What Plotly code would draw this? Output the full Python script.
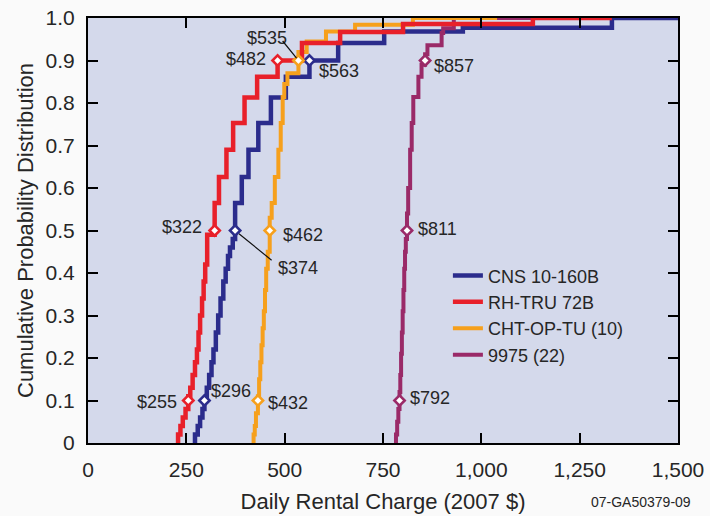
import plotly.graph_objects as go

# ---------------- data ----------------
series_names = ["CNS 10-160B", "RH-TRU 72B", "CHT-OP-TU (10)", "9975 (22)"]

cns_x = [268, 272, 279, 285, 291, 296, 302, 308, 314, 319, 325, 331, 337, 344, 350, 356, 361, 368, 374,
         391, 408, 433, 465, 503, 563, 636, 753, 953, 1332, 1500]
cns_p = [0.0, 0.02, 0.04, 0.06, 0.08, 0.105, 0.13, 0.16, 0.19, 0.22, 0.26, 0.30, 0.34, 0.38, 0.41, 0.44, 0.46, 0.48, 0.565,
         0.626, 0.69, 0.753, 0.813, 0.862, 0.90, 0.941, 0.968, 0.977, 1.0, 1.0]

rh_x = [226, 229, 235, 241, 248, 255, 260, 266, 272, 277, 281, 285, 290, 294, 298, 303, 322,
        333, 352, 369, 398, 430, 482, 544, 641, 801, 1131, 1332]
rh_p = [0.0, 0.02, 0.04, 0.06, 0.08, 0.11, 0.13, 0.16, 0.19, 0.22, 0.26, 0.30, 0.34, 0.38, 0.42, 0.49, 0.565,
        0.626, 0.69, 0.753, 0.813, 0.862, 0.90, 0.941, 0.967, 0.986, 1.0, 1.0]

cht_x = [418, 421, 424, 427, 432, 435, 438, 441, 444, 447, 450, 453, 457, 462,
         467, 475, 484, 490, 495, 499, 507, 535, 556, 605, 679, 826, 1040]
cht_p = [0.0, 0.02, 0.04, 0.07, 0.11, 0.15, 0.19, 0.23, 0.27, 0.31, 0.36, 0.41, 0.45, 0.53,
         0.565, 0.626, 0.69, 0.753, 0.814, 0.845, 0.87, 0.92, 0.945, 0.968, 0.984, 1.0, 1.0]

s9975_x = [781, 783, 786, 789, 792, 794, 796, 798, 800, 802, 804, 806, 808, 811,
           814, 819, 823, 827, 840, 848, 857, 863, 899, 903, 930, 1131]
s9975_p = [0.0, 0.02, 0.05, 0.08, 0.12, 0.16, 0.21, 0.26, 0.31, 0.36, 0.41, 0.45, 0.48, 0.54,
           0.60, 0.69, 0.753, 0.814, 0.862, 0.89, 0.915, 0.936, 0.965, 0.976, 1.0, 1.0]

q_levels = [0.1, 0.5, 0.9]
cns_q = [296, 374, 563]
rh_q = [255, 322, 482]
cht_q = [432, 462, 535]
s9975_q = [792, 811, 857]

x_ticks = [0, 250, 500, 750, 1000, 1250, 1500]
x_ticklabels = ["0", "250", "500", "750", "1,000", "1,250", "1,500"]
y_ticks = [0, 0.1, 0.2, 0.3, 0.4, 0.5, 0.6, 0.7, 0.8, 0.9, 1.0]
y_ticklabels = ["0", "0.1", "0.2", "0.3", "0.4", "0.5", "0.6", "0.7", "0.8", "0.9", "1.0"]

# ---------------- style ----------------
FONT = "Liberation Sans, Arial, Helvetica, sans-serif"
TXT = "#262626"
colors = {"CNS 10-160B": "#2b2c8c", "RH-TRU 72B": "#e8202a",
          "CHT-OP-TU (10)": "#f6a01c", "9975 (22)": "#9a2a68"}
widths = {"CNS 10-160B": 4.5, "RH-TRU 72B": 4.5, "CHT-OP-TU (10)": 4, "9975 (22)": 4}
rank = {n: i for i, n in enumerate(series_names)}

data = {
    "CNS 10-160B": (cns_x, cns_p, cns_q),
    "RH-TRU 72B": (rh_x, rh_p, rh_q),
    "CHT-OP-TU (10)": (cht_x, cht_p, cht_q),
    "9975 (22)": (s9975_x, s9975_p, s9975_q),
}

# drawing order (bottom -> top)
draw_order = ["CNS 10-160B", "9975 (22)", "CHT-OP-TU (10)", "RH-TRU 72B"]

fig = go.Figure()
for name in draw_order:
    xs, ps, _ = data[name]
    fig.add_trace(go.Scatter(
        x=xs, y=ps, mode="lines", name=name, line_shape="hv",
        line=dict(color=colors[name], width=widths[name]),
        legendrank=rank[name] + 1,
    ))
for name in draw_order:
    _, _, qs = data[name]
    fig.add_trace(go.Scatter(
        x=qs, y=q_levels, mode="markers", showlegend=False, cliponaxis=False,
        marker=dict(symbol="diamond", size=8, color="white",
                    line=dict(color=colors[name], width=2.5)),
    ))

# label offsets (pixels): (xanchor, xshift, yshift)
label_style = {
    "CNS 10-160B": [("left", 5, 10), ("left", 41, -37), ("left", 8, -10)],
    "RH-TRU 72B": [("right", -9, -1), ("right", -11, 4), ("right", -10, 2)],
    "CHT-OP-TU (10)": [("left", 8, -2), ("left", 11, -4), ("right", -9, 23)],
    "9975 (22)": [("left", 8, 3), ("left", 9, 2), ("left", 7, -5)],
}
for name in series_names:
    _, _, qs = data[name]
    for (xa, xs_, ys_), v, q in zip(label_style[name], qs, q_levels):
        fig.add_annotation(x=v, y=q, text=f"${v}", showarrow=False,
                           xanchor=xa, yanchor="middle", xshift=xs_, yshift=ys_,
                           font=dict(size=18, color=TXT, family=FONT))

# leader lines for two labels
fig.add_annotation(x=cns_q[1], y=q_levels[1], text="", showarrow=True, arrowhead=0,
                   arrowwidth=1.2, arrowcolor="#111", ax=38, ay=31, standoff=5)
fig.add_annotation(x=cht_q[2], y=q_levels[2], text="", showarrow=True, arrowhead=0,
                   arrowwidth=1.2, arrowcolor="#111", ax=-17, ay=-21, standoff=3)

# figure id
fig.add_annotation(x=1.0, y=0, xref="paper", yref="paper", text="07-GA50379-09",
                   showarrow=False, xanchor="right", yanchor="middle", xshift=15, yshift=-59,
                   font=dict(size=14, color=TXT, family=FONT))

axis_common = dict(showline=True, linecolor="black", linewidth=2, mirror="ticks",
                   ticks="inside", ticklen=10, tickwidth=2, tickcolor="black",
                   showgrid=False, zeroline=False, automargin=False,
                   ticklabeloverflow="allow",
                   tickfont=dict(size=21, color=TXT, family=FONT))

fig.update_layout(
    width=710, height=516,
    margin=dict(l=88, r=32, t=18, b=73, autoexpand=False),
    paper_bgcolor="#fafafa",
    plot_bgcolor="#d4d9eb",
    font=dict(family=FONT, color=TXT),
    showlegend=True,
    legend=dict(x=0.61, y=0.437, xanchor="left", yanchor="top",
                bgcolor="rgba(0,0,0,0)", font=dict(size=18, color=TXT, family=FONT),
                tracegroupgap=0),
    xaxis=dict(range=[0, 1500], tickvals=x_ticks, ticktext=x_ticklabels,
               ticklabelstandoff=7,
               title=dict(text="Daily Rental Charge (2007 $)", standoff=13,
                          font=dict(size=22, color=TXT, family=FONT)),
               **axis_common),
    yaxis=dict(range=[0, 1.0], tickvals=y_ticks, ticktext=y_ticklabels,
               ticklabelstandoff=7,
               title=dict(text="Cumulative Probability Distribution", standoff=6,
                          font=dict(size=22, color=TXT, family=FONT)),
               **axis_common),
)

# remove the default page margin so the 710x516 figure fills the window exactly
fig.write_html(
    "out.html",
    config={"displayModeBar": False},
    post_script="document.body.style.margin='0';"
                "document.documentElement.style.overflow='hidden';"
                "document.body.style.overflow='hidden';",
)
